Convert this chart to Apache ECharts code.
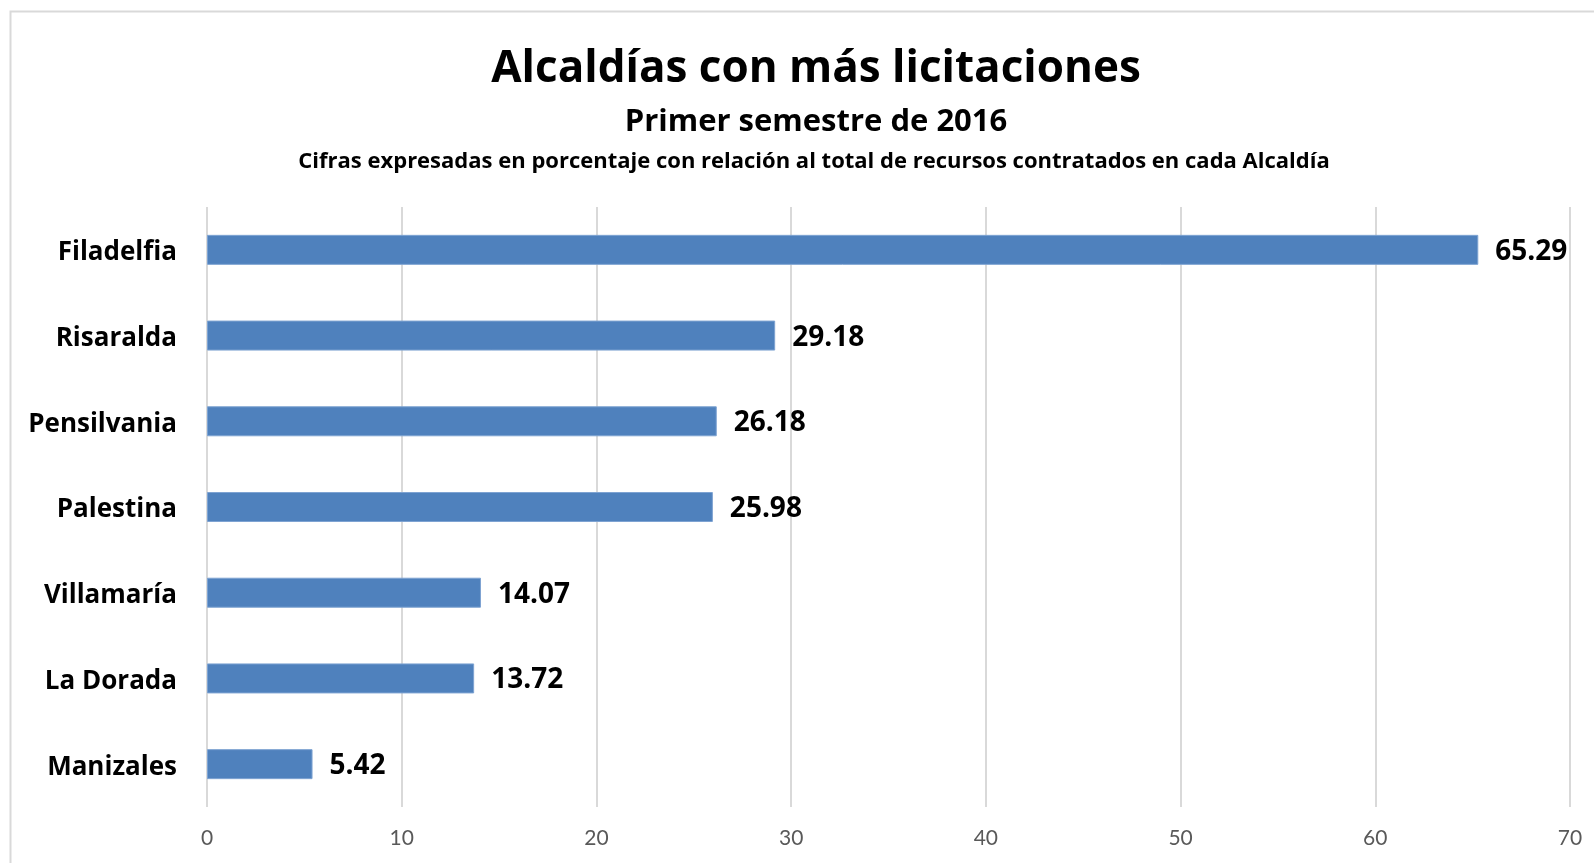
<!DOCTYPE html>
<html>
<head>
<meta charset="utf-8">
<script src="https://cdn.jsdelivr.net/npm/echarts@6/dist/echarts.min.js"></script>
<style>
  html, body { margin: 0; padding: 0; background: #fff; }
  #chart { width: 1594px; height: 863px; }
</style>
</head>
<body>
<div id="chart"></div>
<script>
const municipios = ['Filadelfia', 'Risaralda', 'Pensilvania', 'Palestina', 'Villamaría', 'La Dorada', 'Manizales']
const porcentajes = [65.29, 29.18, 26.18, 25.98, 14.07, 13.72, 5.42]
const xTicks = { min: 0, max: 70, interval: 10 }

const font = '"Open Sans", Lato, sans-serif'
const tickFont = 'Lato, "Open Sans", sans-serif'
const chart = echarts.init(document.getElementById('chart'))

chart.setOption({
  animation: false,
  textStyle: { fontFamily: font },
  title: [
    {
      text: 'Alcaldías con más licitaciones',
      left: 811,
      top: 42,
      textAlign: 'center',
      textStyle: { fontFamily: font, fontSize: 44, fontWeight: 'bold', color: '#000' }
    },
    {
      text: 'Primer semestre de 2016',
      left: 811,
      top: 102,
      textAlign: 'center',
      textStyle: { fontFamily: font, fontSize: 31, fontWeight: 'bold', color: '#000' }
    },
    {
      text: 'Cifras expresadas en porcentaje con relación al total de recursos contratados en cada Alcaldía',
      left: 809,
      top: 146,
      textAlign: 'center',
      textStyle: { fontFamily: font, fontSize: 22, fontWeight: 'bold', color: '#000' }
    }
  ],
  graphic: [
    {
      type: 'polyline',
      silent: true,
      shape: { points: [[10.5, 863], [10.5, 11.5], [1594, 11.5]] },
      style: { stroke: '#d9d9d9', lineWidth: 2, fill: null }
    }
  ],
  grid: { left: 207, right: 24, top: 207, bottom: 56 },
  xAxis: {
    type: 'value',
    min: xTicks.min,
    max: xTicks.max,
    interval: xTicks.interval,
    axisLine: { show: false },
    axisTick: { show: false },
    splitLine: { lineStyle: { color: '#d9d9d9', width: 2 } },
    axisLabel: { color: '#595959', fontSize: 21, margin: 21, fontFamily: tickFont }
  },
  yAxis: {
    type: 'category',
    data: municipios,
    inverse: true,
    axisLine: { show: false },
    axisTick: { show: false },
    axisLabel: {
      margin: 30,
      formatter: v => '{n|' + v + '}',
      rich: {
        n: {
          color: '#000',
          fontSize: 26,
          fontWeight: 'bold',
          fontFamily: font,
          padding: [6, 0, 0, 0]
        }
      }
    }
  },
  series: [
    {
      type: 'bar',
      data: porcentajes,
      barWidth: 30,
      itemStyle: { color: '#4f81bd', borderColor: '#7ea3d2', borderWidth: 1 },
      label: {
        show: true,
        position: 'right',
        distance: 17,
        offset: [0, 2],
        color: '#000',
        fontSize: 28,
        fontWeight: 'bold',
        fontFamily: font,
        formatter: p => p.value.toFixed(2)
      }
    }
  ]
})
</script>
</body>
</html>
